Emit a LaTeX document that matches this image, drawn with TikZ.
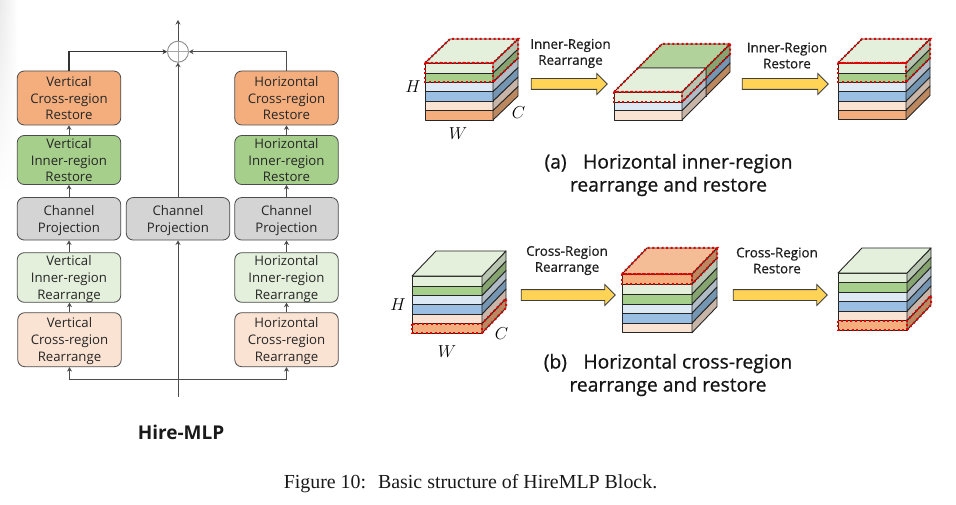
\documentclass[tikz,border=0pt]{standalone}
\usepackage{fontspec}
\setmainfont{Liberation Serif}
\setsansfont{Open Sans}
\newfontfamily\medfont[FakeBold=0.7]{Open Sans}
\usetikzlibrary{arrows.meta,shapes.arrows,fadings}
\definecolor{lgf}{HTML}{E4F0DC}\definecolor{lgs}{HTML}{B7C4AF}
\definecolor{gf}{HTML}{A6CF8B}\definecolor{gs}{HTML}{85A470}
\definecolor{lbf}{HTML}{DDE9F5}\definecolor{lbs}{HTML}{B0BBC5}
\definecolor{bf}{HTML}{9ABFE2}\definecolor{bs}{HTML}{7596B3}
\definecolor{pf}{HTML}{FBE3D3}\definecolor{ps}{HTML}{C8B5A8}
\definecolor{of}{HTML}{F4AE7E}\definecolor{os}{HTML}{BC8860}
\definecolor{otop}{HTML}{F4BD96}\definecolor{gtop}{HTML}{B1D29A}
\definecolor{yarrow}{HTML}{FFD356}
\tikzset{
  box/.style={draw=black!70,line width=0.8pt,rounded corners=7pt,minimum width=103.5pt,inner sep=0pt,
    align=center,text=black!85,text depth=0pt,font=\sffamily\fontsize{13.2}{16.9}\selectfont},
  conn/.style={draw=black!70,line width=0.9pt,-{Stealth[length=4.5pt,width=5pt]}},
  cubeline/.style={draw=black!85,line width=0.9pt,line join=round},
  reddots/.style={draw=red!90!black,line width=2pt,dash pattern=on 2pt off 2.6pt},
  blockarrow/.style={single arrow,draw=black!75,fill=yarrow,line width=0.8pt,minimum height=#1,
    minimum width=20pt,single arrow head extend=5pt,single arrow tip angle=90,inner ysep=5pt,inner xsep=0pt,text width=0pt},
  arrowlabel/.style={align=center,text=black!88,font=\medfont\fontsize{13.4}{16}\selectfont},
  sublabel/.style={align=center,text=black!92,font=\medfont\fontsize{19.3}{23}\selectfont},
  mathlabel/.style={font=\fontsize{18}{18}\selectfont}
}
% x, width, y top, y bottom, dx, dy, front, side
\newcommand\cubelayer[8]{%
  \filldraw[cubeline,fill=#7] (#1,#3) rectangle (#1+#2,#4);
  \filldraw[cubeline,fill=#8] (#1+#2,#3) -- ++(#5,-#6) -- ++(0,#4-#3) -- ++(-#5,#6) -- cycle;
}
% x, width, y top, dx, dy, top colour
\newcommand\cubetop[6]{%
  \filldraw[cubeline,fill=#6] (#1,#3) -- ++(#4,-#5) -- ++(#2,0) -- ++(-#4,#5) -- cycle;
}
\begin{document}
\begin{tikzpicture}[x=1pt,y=-1pt]
\useasboundingbox (0,0) rectangle (956,505);
\fill[white] (0,0) rectangle (956,505);
\shade[left color=black!8,right color=white,path fading=south] (0,0) rectangle (18,190);

% --- left flow chart
\node[box,fill=of,minimum height=54pt] (vcres) at (69,98) {Vertical\\Cross-region\\Restore};
\node[box,fill=gf,minimum height=49pt] (vires) at (69,160) {Vertical\\Inner-region\\Restore};
\node[box,fill=black!17,minimum height=42.5pt] (vcp) at (69,218.8) {Channel\\Projection};
\node[box,fill=lgf,minimum height=49.6pt] (virr) at (69,277.5) {Vertical\\Inner-region\\Rearrange};
\node[box,fill=pf,minimum height=54pt] (vcrr) at (69.5,339.7) {Vertical\\Cross-region\\Rearrange};
\node[box,fill=black!17,minimum height=42.5pt] (mcp) at (178,218.8) {Channel\\Projection};
\node[box,fill=of,minimum height=54pt] (hcres) at (286.5,98) {Horizontal\\Cross-region\\Restore};
\node[box,fill=gf,minimum height=49pt] (hires) at (286.5,160) {Horizontal\\Inner-region\\Restore};
\node[box,fill=black!17,minimum height=42.5pt] (hcp) at (286.5,218.8) {Channel\\Projection};
\node[box,fill=lgf,minimum height=49.6pt] (hirr) at (286.5,277.5) {Horizontal\\Inner-region\\Rearrange};
\node[box,fill=pf,minimum height=54pt] (hcrr) at (286.5,339.7) {Horizontal\\Cross-region\\Rearrange};
\node[circle,draw=black!45,line width=0.9pt,minimum size=21pt,inner sep=0pt] (sum) at (178,51.7) {};
\draw[black!35,line width=0.7pt] (sum.north) -- (sum.south) (sum.west) -- (sum.east);
\coordinate (topout) at (178,20);
\coordinate (base) at (178,397);
\coordinate (rail) at (178,379);

\draw[conn] (sum.north) -- (topout);
\draw[conn,draw=black!80,line width=1.4pt] (vcres.north) |- (sum.west);
\draw[conn] (hcres.north) |- (sum.east);
\draw[conn] (mcp.north) -- (sum.south);
\draw[conn] (base) -- (mcp.south);
\foreach \a/\b in {vires/vcres,vcp/vires,virr/vcp,vcrr/virr,hires/hcres,hcp/hires,hirr/hcp,hcrr/hirr}
  \draw[conn] (\a.north) -- (\a.north |- \b.south);
\draw[conn,{Stealth[length=4.5pt,width=5pt]}-{Stealth[length=4.5pt,width=5pt]}]
  (vcrr.south) -- (vcrr.south |- rail) -- (hcrr.south |- rail) -- (hcrr.south);

\node[font=\sffamily\bfseries\fontsize{19}{20}\selectfont,text=black!90] (title) at (181,432) {Hire-MLP};

% --- cube A
\cubelayer{425}{68}{110.5}{120}{25}{24}{of}{os}
\cubelayer{425}{68}{101}{110.5}{25}{24}{pf}{ps}
\cubelayer{425}{68}{91.5}{101}{25}{24}{bf}{bs}
\cubelayer{425}{68}{82}{91.5}{25}{24}{lbf}{lbs}
\cubelayer{425}{68}{73}{82}{25}{24}{gf}{gs}
\cubelayer{425}{68}{63}{73}{25}{24}{lgf}{lgs}
\cubetop{425}{68}{63}{25}{24}{lgf}
\draw[reddots] (425,63) -- (450,39) -- (518,39) -- (493,63) -- cycle;
\draw[reddots] (425,63) rectangle (493,82);
\draw[reddots] (518,39) -- (518,58) -- (493,82);

% --- cube B
\cubelayer{682}{24}{87}{96}{24}{24}{of}{os}
\cubelayer{682}{24}{78}{87}{24}{24}{bf}{bs}
\cubelayer{682}{24}{68}{78}{24}{24}{gf}{gs}
\cubetop{638}{68}{68}{24}{24}{gtop}
\cubelayer{614}{68}{110.5}{120}{24}{24}{pf}{ps}
\cubelayer{614}{68}{102}{110.5}{24}{24}{lbf}{lbs}
\cubelayer{614}{68}{92}{102}{24}{24}{lgf}{lgs}
\cubetop{614}{68}{92}{24}{24}{lgf}
\draw[reddots] (614,92) -- (662,44) -- (730,44) -- (682,92) -- cycle;
\draw[reddots] (614,92) rectangle (682,102);
\draw[reddots] (730,44) -- (730,54) -- (682,102);

% --- cube C
\cubelayer{838}{68}{110}{119.5}{24}{24}{of}{os}
\cubelayer{838}{68}{101}{110}{24}{24}{pf}{ps}
\cubelayer{838}{68}{91.5}{101}{24}{24}{bf}{bs}
\cubelayer{838}{68}{82}{91.5}{24}{24}{lbf}{lbs}
\cubelayer{838}{68}{73}{82}{24}{24}{gf}{gs}
\cubelayer{838}{68}{63}{73}{24}{24}{lgf}{lgs}
\cubetop{838}{68}{63}{24}{24}{lgf}
\draw[reddots] (838,63) -- (862,39) -- (930,39) -- (906,63) -- cycle;
\draw[reddots] (838,63) rectangle (906,82);
\draw[reddots] (930,39) -- (930,58) -- (906,82);

% --- cube D
\cubelayer{412}{70}{323.5}{333}{24}{25}{of}{os}
\cubelayer{412}{70}{314}{323.5}{24}{25}{pf}{ps}
\cubelayer{412}{70}{304.5}{314}{24}{25}{bf}{bs}
\cubelayer{412}{70}{295.5}{304.5}{24}{25}{lbf}{lbs}
\cubelayer{412}{70}{286}{295.5}{24}{25}{gf}{gs}
\cubelayer{412}{70}{276}{286}{24}{25}{lgf}{lgs}
\cubetop{412}{70}{276}{24}{25}{lgf}
\draw[reddots] (412,323.5) rectangle (482,333);
\draw[reddots] (482,333) -- (506,308) -- (506,298.5) -- (482,323.5);

% --- cube E
\cubelayer{622}{70}{323}{332.7}{25}{26}{pf}{ps}
\cubelayer{622}{70}{313}{323}{25}{26}{bf}{bs}
\cubelayer{622}{70}{304}{313}{25}{26}{lbf}{lbs}
\cubelayer{622}{70}{294}{304}{25}{26}{gf}{gs}
\cubelayer{622}{70}{284}{294}{25}{26}{lgf}{lgs}
\cubelayer{622}{70}{274}{284}{25}{26}{of}{os}
\cubetop{622}{70}{274}{25}{26}{otop}
\draw[reddots] (622,274) -- (647,248) -- (717,248) -- (692,274) -- cycle;
\draw[reddots] (622,274) rectangle (692,284);
\draw[reddots] (717,248) -- (717,258) -- (692,284);

% --- cube F
\cubelayer{838}{69}{320.5}{330}{24}{25}{of}{os}
\cubelayer{838}{69}{311}{320.5}{24}{25}{pf}{ps}
\cubelayer{838}{69}{301.5}{311}{24}{25}{bf}{bs}
\cubelayer{838}{69}{292}{301.5}{24}{25}{lbf}{lbs}
\cubelayer{838}{69}{282.5}{292}{24}{25}{gf}{gs}
\cubelayer{838}{69}{273}{282.5}{24}{25}{lgf}{lgs}
\cubetop{838}{69}{273}{24}{25}{lgf}
\draw[reddots] (838,320.5) rectangle (907,330);
\draw[reddots] (907,330) -- (931,305) -- (931,295.5) -- (907,320.5);

% --- block arrows
\node[blockarrow=76pt] (arrA) at (566.5,84) {};
\node[blockarrow=86pt] (arrB) at (782.5,84) {};
\node[blockarrow=94pt] (arrC) at (565.5,295) {};
\node[blockarrow=94pt] (arrD) at (777.5,295) {};

% --- labels
\node[arrowlabel] (lA) at (570.5,53.5) {Inner-Region\\Rearrange};
\node[arrowlabel] (lB) at (787,55.5) {Inner-Region\\Restore};
\node[arrowlabel] (lC) at (567,260.5) {Cross-Region\\Rearrange};
\node[arrowlabel] (lD) at (777,260.5) {Cross-Region\\Restore};
\node[mathlabel] (hA) at (413,87) {$H$};
\node[mathlabel] (wA) at (458,134) {$W$};
\node[mathlabel] (cA) at (518.5,113) {$C$};
\node[mathlabel] (hD) at (398,305) {$H$};
\node[mathlabel] (wD) at (447,352) {$W$};
\node[mathlabel] (cD) at (501.5,334) {$C$};
\node[sublabel] (subA) at (668.5,175) {(a)\hspace{0.85em}Horizontal inner-region\\rearrange and restore};
\node[sublabel] (subB) at (668,375) {(b)\hspace{0.85em}Horizontal cross-region\\rearrange and restore};
\node[font=\fontsize{19.9}{22}\selectfont,text=black!90] (cap) at (470.5,483.5) {Figure 10:\hspace{0.6em}Basic structure of HireMLP Block.};
\end{tikzpicture}
\end{document}
